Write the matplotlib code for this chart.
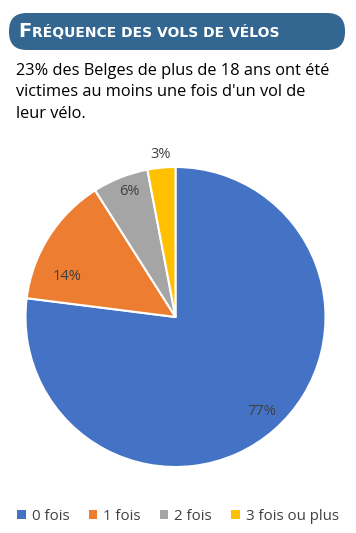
import numpy as np
import matplotlib
matplotlib.use("Agg")
import matplotlib.pyplot as plt
from matplotlib.patches import FancyBboxPatch, Patch

# ---------- data ----------
categories = ["0 fois", "1 fois", "2 fois", "3 fois ou plus"]
values = [77, 14, 6, 3]
colors = ["#4472C4", "#ED7D31", "#A5A5A5", "#FFC000"]

title_first = "F"
title_rest = "RÉQUENCE DES VOLS DE VÉLOS"
subtitle = ("23% des Belges de plus de 18 ans ont été\n"
            "victimes au moins une fois d'un vol de\n"
            "leur vélo.")

# label placement (radius fraction, angle shift in degrees) – Excel "best fit"
label_r = [0.85, 0.77, 0.89, 1.09]
label_shift = [1.0, 12.0, -1.5, 0.0]

W, H = 356, 533
fig = plt.figure(figsize=(W / 100, H / 100), dpi=100)
fig.patch.set_facecolor("white")

# ---------- title banner ----------
banner = FancyBboxPatch((9 / W, 1 - 50 / H), 336 / W, 37 / H,
                        boxstyle="round,pad=0,rounding_size=0.05",
                        transform=fig.transFigure, facecolor="#336791",
                        edgecolor="none", mutation_aspect=W / H)
fig.patches.append(banner)
t1 = fig.text(18 / W, 1 - 31.5 / H, title_first, color="white", fontsize=14,
              fontweight="bold", family="DejaVu Sans", va="center", ha="left")
fig.canvas.draw()
bb = t1.get_window_extent()
fig.text(bb.x1 / W + 0.5 / W, 1 - 32.5 / H, title_rest, color="white",
         fontsize=10, fontweight="bold", family="DejaVu Sans",
         va="center", ha="left")

# ---------- subtitle ----------
fig.text(16 / W, 1 - 63 / H, subtitle, fontsize=11.8, family="Open Sans",
         color="black", va="top", ha="left", linespacing=1.45)

# ---------- pie ----------
cx, cy, R = 175.5, 317, 150
ax = fig.add_axes([(cx - R) / W, (H - cy - R) / H, 2 * R / W, 2 * R / H])
wedges, _ = ax.pie(values, colors=colors, startangle=90, counterclock=False,
                   radius=1.0, wedgeprops=dict(edgecolor="white", linewidth=1.5))
ax.set_xlim(-1, 1)
ax.set_ylim(-1, 1)
ax.set_aspect("equal")
ax.axis("off")

total = float(sum(values))
cum = 0.0
for v, r, s in zip(values, label_r, label_shift):
    mid = 90 - (cum + v / 2) / total * 360 + s
    cum += v
    a = np.deg2rad(mid)
    ax.text(r * np.cos(a), r * np.sin(a), f"{v}%", ha="center", va="center",
            fontsize=10.5, family="Open Sans", color="#404040")

# ---------- legend ----------
handles = [Patch(facecolor=c, edgecolor="none") for c in colors]
fig.legend(handles, categories, ncol=4, loc="center",
           bbox_to_anchor=(0.5, 1 - 516 / H), frameon=False,
           prop=dict(family="Open Sans", size=10.8), handlelength=0.55,
           handleheight=0.55, handletextpad=0.4, columnspacing=1.3,
           labelcolor="#404040")

fig.savefig("out.png", dpi=100)
